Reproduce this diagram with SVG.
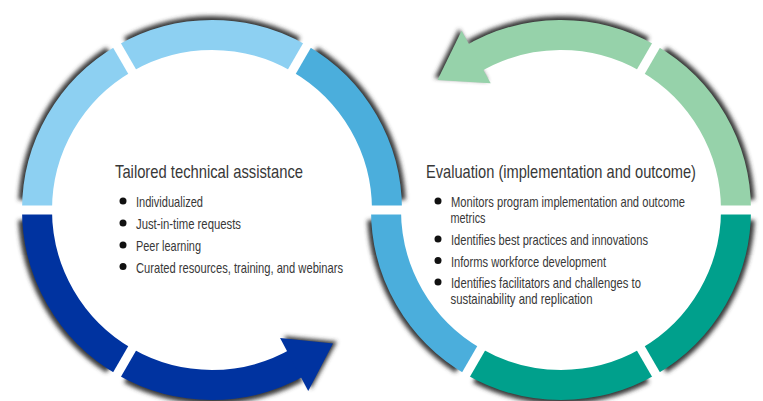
<svg xmlns="http://www.w3.org/2000/svg" width="763" height="401" viewBox="0 0 763 401">
  <defs>
    <filter id="blur" filterUnits="userSpaceOnUse" x="-20" y="-20" width="803" height="441">
      <feGaussianBlur stdDeviation="2.2"/>
    </filter>
  </defs>
  <style>
    .shadow{fill:none;stroke:#3a3a3a;stroke-width:26;filter:url(#blur)}
    .shadow-head{fill:#3a3a3a;filter:url(#blur)}
    .seg{fill:none;stroke-width:30}
    .light{stroke:#8DD0F2}
    .mid{stroke:#4BAEDC}
    .navy{stroke:#0033A0}
    .mint{stroke:#96D2AA}
    .teal{stroke:#00A08C}
    .navy-head{fill:#0033A0}
    .mint-head{fill:#96D2AA}
    .gap{stroke:#fff;stroke-width:9;stroke-linecap:butt}
    .title{font-family:"Liberation Sans",Arial,sans-serif;font-size:17.8px;fill:#383838}
    .item{font-family:"Liberation Sans",Arial,sans-serif;font-size:14.2px;fill:#383838}
    .dot{fill:#111}
  </style>
  <rect width="763" height="401" fill="#fff"/>

  <!-- soft outer shadows of all ring pieces -->
  <g id="shadows">
    <path class="shadow" d="M392.75,200.53 A181,181 0 0 0 310.57,58.2"/>
    <path class="shadow" d="M294.17,48.73 A181,181 0 0 0 129.83,48.73"/>
    <path class="shadow" d="M113.43,58.2 A181,181 0 0 0 31.25,200.53"/>
    <path class="shadow" d="M31.25,219.47 A181,181 0 0 0 113.43,361.8"/>
    <path class="shadow" d="M129.83,371.27 A181,181 0 0 0 296.98,369.8"/>
    <polygon class="shadow-head" points="284,336 337,341.5 311,389" />
    <path class="shadow" d="M380.25,219.47 A181,181 0 0 0 462.43,361.8"/>
    <path class="shadow" d="M478.83,371.27 A181,181 0 0 0 643.17,371.27"/>
    <path class="shadow" d="M659.57,361.8 A181,181 0 0 0 741.75,219.47"/>
    <path class="shadow" d="M741.75,200.53 A181,181 0 0 0 659.57,58.2"/>
    <path class="shadow" d="M643.17,48.73 A181,181 0 0 0 473.25,51.7"/>
    <polygon class="shadow-head" points="488,81 434.5,78 459,28.7" />
  </g>

  <!-- Tailored technical assistance ring -->
  <g id="tailored">
    <path class="seg mid" d="M387,210 A175,175 0 0 0 299.5,58.45"/>
    <path class="seg light" d="M299.5,58.45 A175,175 0 0 0 124.5,58.45"/>
    <path class="seg light" d="M124.5,58.45 A175,175 0 0 0 37,210"/>
    <path class="seg navy" d="M37,210 A175,175 0 0 0 124.5,361.55"/>
  </g>

  <!-- Evaluation ring -->
  <g id="evaluation">
    <path class="seg mid" d="M386,210 A175,175 0 0 0 473.5,361.55"/>
    <path class="seg teal" d="M473.5,361.55 A175,175 0 0 0 648.5,361.55"/>
    <path class="seg teal" d="M648.5,361.55 A175,175 0 0 0 736,210"/>
    <path class="seg mint" d="M736,210 A175,175 0 0 0 648.5,58.45"/>
  </g>

  <!-- arrows linking the two cycles -->
  <g id="connectors">
    <path class="seg navy" d="M124.5,361.55 A175,175 0 0 0 299.5,361.55"/>
    <polygon class="navy-head" points="280.08,338.02 333,343.5 308.25,391"/>
    <path class="seg mint" d="M648.5,58.45 A175,175 0 0 0 470.87,59.99"/>
    <polygon class="mint-head" points="490.7,83.2 437.5,80 461.6,30.7"/>
  </g>

  <!-- white separators between ring pieces -->
  <g id="separators">
    <line class="gap" x1="287" y1="80.1" x2="314.5" y2="32.47"/>
    <line class="gap" x1="137" y1="80.1" x2="109.5" y2="32.47"/>
    <line class="gap" x1="62" y1="210" x2="5" y2="210"/>
    <line class="gap" x1="137" y1="339.9" x2="109.5" y2="387.53"/>
    <line class="gap" x1="356" y1="210" x2="417" y2="210"/>
    <line class="gap" x1="486" y1="339.9" x2="458.5" y2="387.53"/>
    <line class="gap" x1="636" y1="339.9" x2="663.5" y2="387.53"/>
    <line class="gap" x1="711" y1="210" x2="763" y2="210"/>
    <line class="gap" x1="636" y1="80.1" x2="663.5" y2="32.47"/>
  </g>

  <g id="tailored-text">
    <text class="title" x="115" y="178" textLength="188" lengthAdjust="spacingAndGlyphs">Tailored technical assistance</text>
    <circle class="dot" cx="123" cy="201" r="3.5"/>
    <text class="item" x="136" y="207" textLength="67" lengthAdjust="spacingAndGlyphs">Individualized</text>
    <circle class="dot" cx="123" cy="223" r="3.5"/>
    <text class="item" x="136" y="229" textLength="105" lengthAdjust="spacingAndGlyphs">Just-in-time requests</text>
    <circle class="dot" cx="123" cy="245" r="3.5"/>
    <text class="item" x="136" y="251" textLength="65" lengthAdjust="spacingAndGlyphs">Peer learning</text>
    <circle class="dot" cx="123" cy="266.5" r="3.5"/>
    <text class="item" x="136" y="272.5" textLength="207" lengthAdjust="spacingAndGlyphs">Curated resources, training, and webinars</text>
  </g>

  <g id="evaluation-text">
    <text class="title" x="426" y="178" textLength="270" lengthAdjust="spacingAndGlyphs">Evaluation (implementation and outcome)</text>
    <circle class="dot" cx="438" cy="201" r="3.5"/>
    <text class="item" x="451" y="207" textLength="234" lengthAdjust="spacingAndGlyphs">Monitors program implementation and outcome</text>
    <text class="item" x="450.5" y="222.7" textLength="35" lengthAdjust="spacingAndGlyphs">metrics</text>
    <circle class="dot" cx="438" cy="239" r="3.5"/>
    <text class="item" x="451" y="245" textLength="197" lengthAdjust="spacingAndGlyphs">Identifies best practices and innovations</text>
    <circle class="dot" cx="438" cy="260.5" r="3.5"/>
    <text class="item" x="451" y="266.5" textLength="155" lengthAdjust="spacingAndGlyphs">Informs workforce development</text>
    <circle class="dot" cx="438" cy="282" r="3.5"/>
    <text class="item" x="451" y="288" textLength="190" lengthAdjust="spacingAndGlyphs">Identifies facilitators and challenges to</text>
    <text class="item" x="450.5" y="304" textLength="142" lengthAdjust="spacingAndGlyphs">sustainability and replication</text>
  </g>
</svg>
